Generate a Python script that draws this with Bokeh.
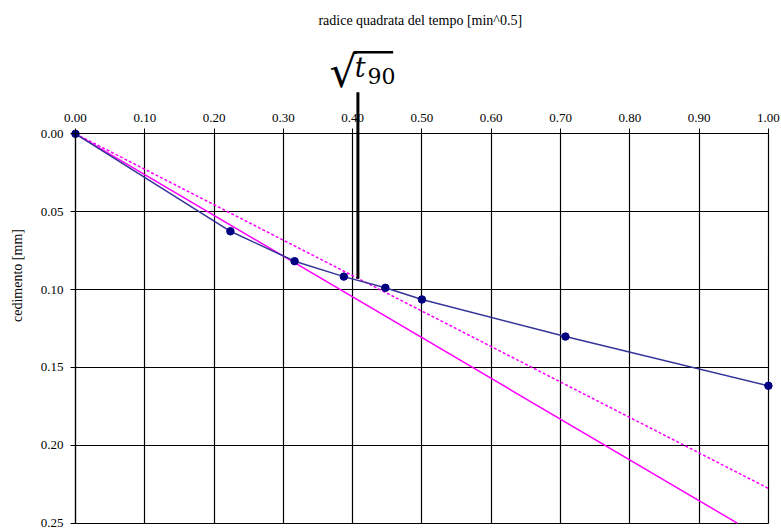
import math
from bokeh.plotting import figure
from bokeh.models import Range1d, FixedTicker, NumeralTickFormatter, Label, Arrow, LinearAxis
from bokeh.embed import file_html
from bokeh.resources import INLINE

# measured points: square root of time [min^0.5] vs settlement [mm]
sqrt_time = [0.0, 0.2236, 0.3162, 0.3873, 0.4472, 0.5000, 0.7071, 1.0000]
settlement = [0.0, 0.0626, 0.0818, 0.0917, 0.0989, 0.1064, 0.1302, 0.1618]

# initial tangent (solid) and 1.15x abscissa line (dashed)
tangent_x = [0.0, 0.955]
tangent_y = [0.0, 0.250]
taylor_x = [0.0, 1.0]
taylor_y = [0.0, 0.2277]

# sqrt(t90) reading
sqrt_t90 = 0.4076
settle_t90 = 0.0931

x_ticks = [0.0, 0.1, 0.2, 0.3, 0.4, 0.5, 0.6, 0.7, 0.8, 0.9, 1.0]
y_ticks = [0.0, 0.05, 0.10, 0.15, 0.20, 0.25]

SERIF = "Liberation Serif"

# the frame covers the whole canvas so the sqrt(t90) construction above the
# chart can be drawn; axes sit at x=0 / y=0 and axes and grid are bounded
p = figure(width=781, height=529, output_backend="svg", toolbar_location=None,
           x_range=Range1d(-0.1082, 1.0189), y_range=Range1d(0.2541, -0.0856),
           x_axis_location=None, y_axis_location=None,
           min_border_left=0, min_border_top=0, min_border_right=0, min_border_bottom=0)

p.background_fill_color = "white"
p.border_fill_color = "white"
p.outline_line_color = None

xaxis = LinearAxis(fixed_location=0.0, bounds=(0.0, 1.0))
yaxis = LinearAxis(fixed_location=0.0, bounds=(0.0, 0.25))
p.add_layout(xaxis, "above")
p.add_layout(yaxis, "left")

for ax in (xaxis, yaxis):
    ax.axis_line_color = "black"
    ax.axis_line_width = 1.2
    ax.major_tick_line_color = "black"
    ax.major_tick_out = 5
    ax.major_tick_in = 0
    ax.minor_tick_line_color = None
    ax.major_label_text_font = SERIF
    ax.major_label_text_font_size = "13px"
    ax.major_label_text_color = "black"
    ax.major_label_standoff = 7
    ax.formatter = NumeralTickFormatter(format="0.00")

xaxis.ticker = FixedTicker(ticks=x_ticks)
yaxis.ticker = FixedTicker(ticks=y_ticks)
xaxis.axis_label = "radice quadrata  del tempo [min^0.5]"
xaxis.axis_label_text_font = SERIF
xaxis.axis_label_text_font_style = "normal"
xaxis.axis_label_text_font_size = "14px"
xaxis.axis_label_text_color = "black"
xaxis.axis_label_standoff = 83

p.xgrid.ticker = FixedTicker(ticks=x_ticks)
p.ygrid.ticker = FixedTicker(ticks=y_ticks)
p.xgrid.cross_bounds = (0.0, 0.25)
p.ygrid.cross_bounds = (0.0, 1.0)
p.grid.grid_line_color = "black"
p.grid.grid_line_width = 1.2

p.line(tangent_x, tangent_y, line_color="#FF00FF", line_width=1.5)
p.line(taylor_x, taylor_y, line_color="#FF00FF", line_width=1.5, line_dash="3 2")
p.line(sqrt_time, settlement, line_color="#333399", line_width=1.5)
p.scatter(sqrt_time, settlement, size=7.5, fill_color="#000080", line_color="#000080")

# y axis title
p.add_layout(Label(x=-0.0830, y=0.091, text="cedimento [mm]", angle=math.pi / 2,
                   text_font=SERIF, text_font_size="14px", text_color="black",
                   text_align="center", text_baseline="middle"))

# vertical marker at sqrt(t90), from the curve up above the chart
p.add_layout(Arrow(end=None, x_start=sqrt_t90, y_start=settle_t90,
                   x_end=sqrt_t90, y_end=-0.0267,
                   line_color="black", line_width=3))

# sqrt(t90) symbol
p.add_layout(Label(x=0.3666, y=-0.0397, text="√",
                   text_font="DejaVu Sans", text_font_size="43px", text_color="black",
                   text_align="left", text_baseline="alphabetic"))
p.add_layout(Arrow(end=None, x_start=0.4012, y_start=-0.0524, x_end=0.4585, y_end=-0.0524,
                   line_color="black", line_width=2.5))
p.add_layout(Label(x=0.4030, y=-0.0425, text="t",
                   text_font="DejaVu Serif", text_font_style="italic",
                   text_font_size="27px", text_color="black",
                   text_align="left", text_baseline="alphabetic"))
p.add_layout(Label(x=0.4215, y=-0.0371, text="90",
                   text_font="DejaVu Serif", text_font_size="22px", text_color="black",
                   text_align="left", text_baseline="alphabetic"))

open("out.html", "w").write(file_html(p, INLINE))
